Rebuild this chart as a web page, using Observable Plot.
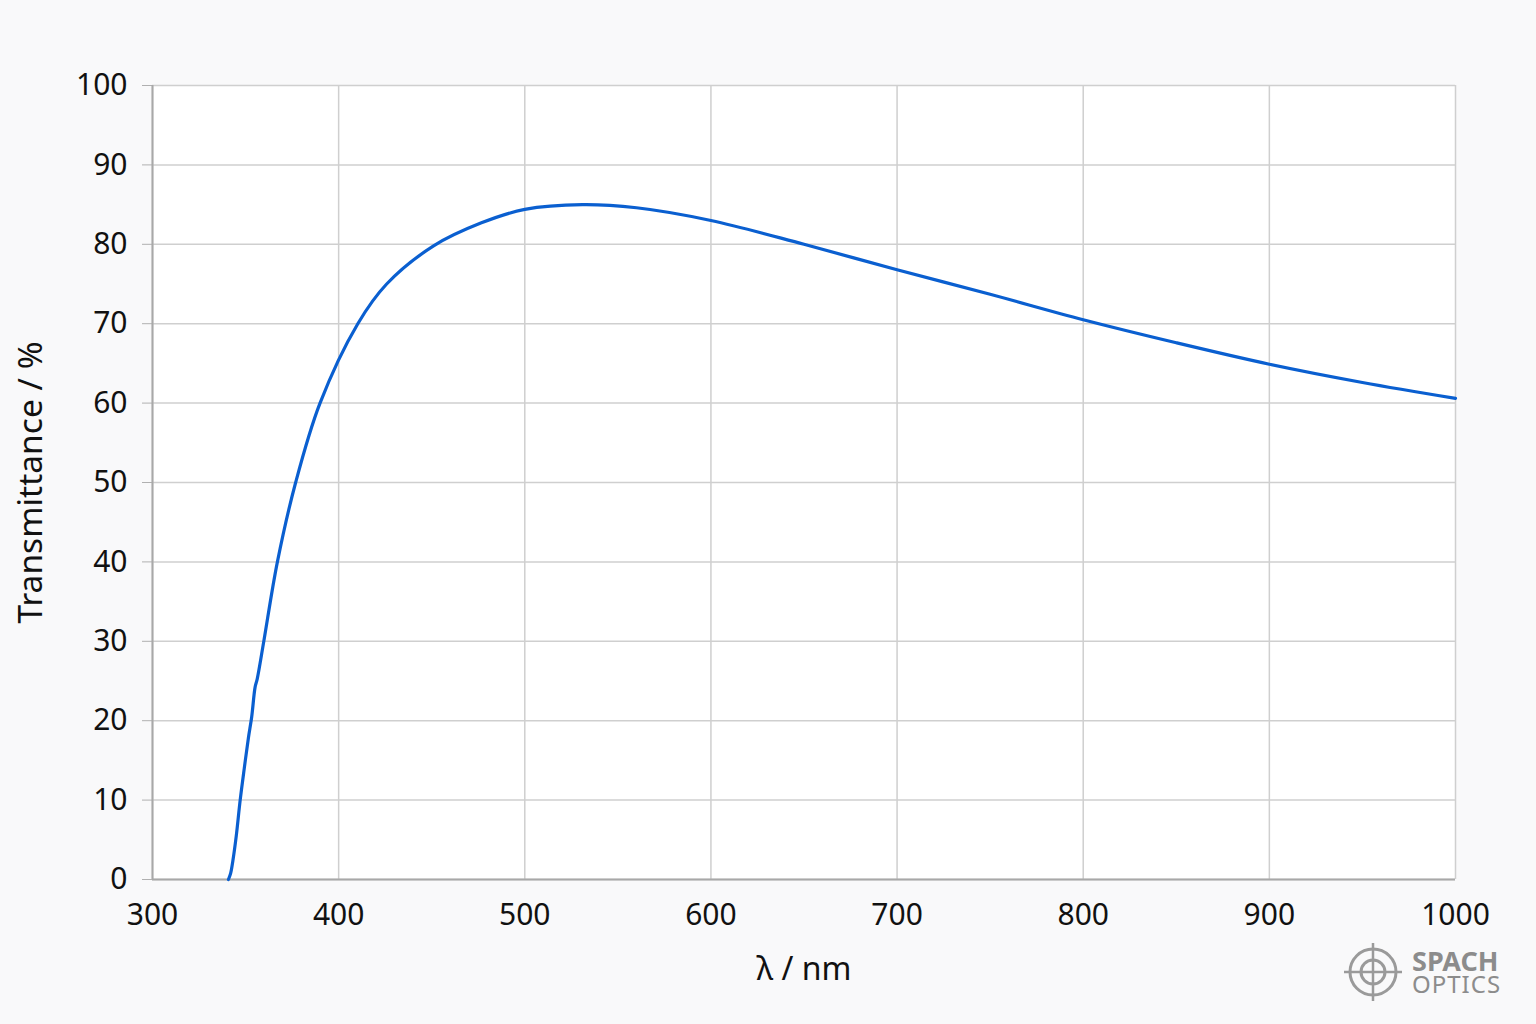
<!DOCTYPE html>
<html>
<head>
<meta charset="utf-8">
<script src="https://cdn.jsdelivr.net/npm/d3@7"></script>
<script src="https://cdn.jsdelivr.net/npm/@observablehq/plot@0.6"></script>
<style>
  html, body { margin: 0; padding: 0; background: #f9f9fa; }
  #chart { position: relative; width: 1536px; height: 1024px; }
  #chart svg g[aria-label="y-axis label"] text { font-size: 33.5px; }
  #chart svg g[aria-label="x-axis label"] text { font-size: 32px; }
  #logo { position: absolute; left: 1343px; top: 941px; }
  #brand { position: absolute; left: 1412px; top: 949px; white-space: pre-line; color: #8c8c8c;
    font-family: "Noto Sans", sans-serif; font-size: 24px; line-height: 23px; letter-spacing: 1px; }
  #brand::first-line { font-size: 27px; font-weight: 700; letter-spacing: 0; }
</style>
</head>
<body>
<div id="chart">
  <svg id="logo" width="62" height="64" viewBox="0 0 62 64">
    <circle cx="30" cy="31" r="23" fill="none" stroke="#9a9a9a" stroke-width="3"/>
    <circle cx="30" cy="31" r="12" fill="none" stroke="#9a9a9a" stroke-width="3"/>
    <line x1="1" y1="31" x2="59" y2="31" stroke="#9a9a9a" stroke-width="2.5"/>
    <line x1="30" y1="2" x2="30" y2="60" stroke="#9a9a9a" stroke-width="2.5"/>
  </svg>
  <div id="brand">SPACH
OPTICS</div>
</div>
<script>
// transmittance curve
const wavelength = [340.8, 342, 343.2, 345, 347.1, 349.3, 351.5, 353.3, 355.1, 356.3, 359.8, 367.1, 376.9, 390, 410.3, 425.8, 451, 476.7, 500, 531, 560, 600, 650, 700, 750, 800, 850, 900, 950, 1000];
const transmittance = [0, 0.8, 2.4, 5.5, 10, 14, 17.8, 20.5, 24.2, 25.3, 30, 40, 50, 60, 70, 75, 79.8, 82.7, 84.4, 85, 84.6, 83, 80, 76.8, 73.7, 70.5, 67.6, 64.9, 62.6, 60.6];
const xTicks = [300, 400, 500, 600, 700, 800, 900, 1000];
const yTicks = [0, 10, 20, 30, 40, 50, 60, 70, 80, 90, 100];

const data = wavelength.map((w, i) => ({w, t: transmittance[i]}));

const plot = Plot.plot({
  width: 1536,
  height: 1024,
  marginLeft: 152,
  marginRight: 81,
  marginTop: 85,
  marginBottom: 145,
  style: {fontFamily: "'Noto Sans', sans-serif", fontSize: "30px", color: "#111", background: "transparent"},
  x: {domain: [300, 1000]},
  y: {domain: [0, 100]},
  marks: [
    Plot.frame({fill: "#ffffff", stroke: "none"}),
    Plot.gridX(xTicks, {stroke: "#cfcfcf", strokeOpacity: 1, strokeWidth: 1.5}),
    Plot.gridY(yTicks, {stroke: "#cfcfcf", strokeOpacity: 1, strokeWidth: 1.5}),
    Plot.axisY(yTicks, {tickSize: 10, tickPadding: 15, stroke: "#b0b0b0", fill: "#111",
      label: "Transmittance / %", labelAnchor: "center", labelArrow: "none", labelOffset: 134}),
    Plot.axisX(xTicks, {tickSize: 0, tickPadding: 24, fill: "#111", tickFormat: (d) => String(d),
      label: "λ / nm", labelAnchor: "center", labelArrow: "none", labelOffset: 100}),
    Plot.ruleX([300], {stroke: "#a8a8a8", strokeWidth: 2}),
    Plot.ruleY([0], {stroke: "#a8a8a8", strokeWidth: 2}),
    Plot.line(data, {x: "w", y: "t", stroke: "#0a5fd0", strokeWidth: 3.2, curve: "catmull-rom"})
  ]
});

document.querySelector("#chart").prepend(plot);
</script>
</body>
</html>
